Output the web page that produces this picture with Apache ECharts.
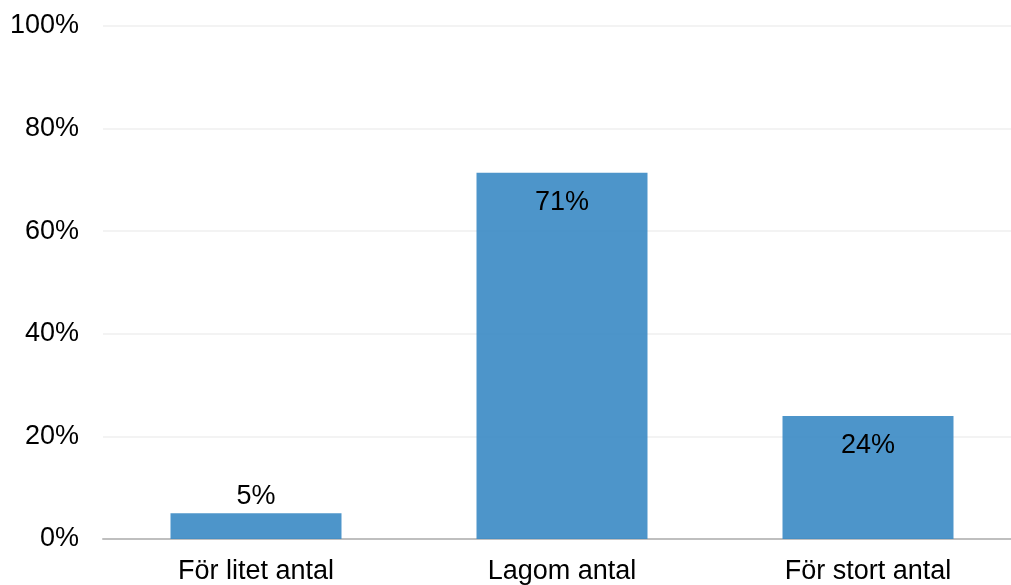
<!DOCTYPE html>
<html>
<head>
<meta charset="utf-8">
<script src="https://cdn.jsdelivr.net/npm/echarts@6/dist/echarts.min.js"></script>
<style>html,body{margin:0;padding:0;background:#fff}#c{width:1011px;height:585px}</style>
</head>
<body>
<div id="c"></div>
<script>
const categories = ['För litet antal', 'Lagom antal', 'För stort antal'];
const values = [5.0, 71.4, 24.0];
const labelPositions = ['top', 'insideTop', 'insideTop'];
const yTicks = [0, 20, 40, 60, 80, 100];

const chart = echarts.init(document.getElementById('c'), null, {renderer: 'canvas'});
chart.setOption({
  animation: false,
  grid: {left: 103, width: 918, top: 26, height: 513, outerBoundsMode: 'none', containLabel: false},
  xAxis: {
    type: 'category',
    data: categories,
    axisLine: {lineStyle: {color: '#bfbfbf', width: 2}},
    axisTick: {show: false},
    axisLabel: {color: '#000', fontSize: 27, fontFamily: 'Liberation Sans, Arial', margin: 19}
  },
  yAxis: {
    type: 'value',
    min: yTicks[0],
    max: yTicks[yTicks.length - 1],
    interval: 20,
    axisLine: {show: false},
    axisTick: {show: false},
    splitLine: {lineStyle: {color: '#efefef', width: 1.5}},
    axisLabel: {color: '#000', fontSize: 27, fontFamily: 'Liberation Sans, Arial', margin: 24,
      padding: [7, 0, 0, 0], formatter: '{value}%'}
  },
  series: [{
    type: 'bar',
    barWidth: 171,
    data: values.map((v, i) => ({
      value: v,
      label: {position: labelPositions[i], distance: labelPositions[i] === 'top' ? 3 : 16}
    })),
    itemStyle: {color: 'rgba(58,138,196,0.9)'},
    label: {
      show: true,
      color: '#000',
      fontSize: 27,
      fontFamily: 'Liberation Sans, Arial',
      formatter: p => Math.round(p.value) + '%'
    }
  }]
});
</script>
</body>
</html>
